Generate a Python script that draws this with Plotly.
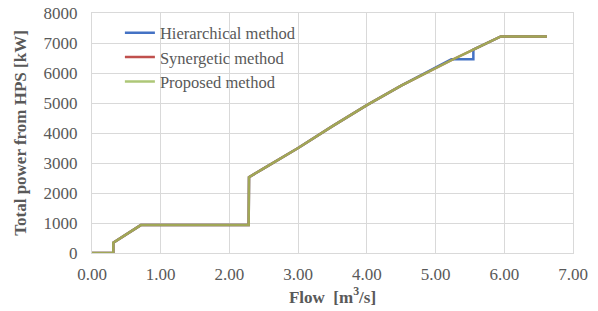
import plotly.graph_objects as go

# Proposed / synergetic method (identical curves)
flow = [0.00, 0.31, 0.31, 0.50, 0.71, 2.28, 2.285, 2.50, 2.75, 3.00, 3.50, 4.00, 4.50, 5.00, 5.25, 5.55, 5.95, 6.62]
power = [0, 0, 340, 630, 930, 930, 2530, 2820, 3150, 3500, 4230, 4930, 5580, 6170, 6450, 6780, 7220, 7220]

# Hierarchical method
flow_h = [0.00, 0.31, 0.31, 0.50, 0.71, 2.28, 2.285, 2.50, 2.75, 3.00, 3.50, 4.00, 4.50, 5.00, 5.23, 5.55, 5.55, 5.95, 6.62]
power_h = [0, 0, 340, 630, 930, 930, 2530, 2820, 3150, 3500, 4230, 4930, 5580, 6170, 6460, 6460, 6780, 7220, 7220]

series_names = ["Hierarchical method", "Synergetic method", "Proposed method"]
colors = ["#4472C4", "#C0504D", "#9BBB59"]

x_ticks = [0, 1, 2, 3, 4, 5, 6, 7]
x_tick_text = ["0.00", "1.00", "2.00", "3.00", "4.00", "5.00", "6.00", "7.00"]
y_ticks = [0, 1000, 2000, 3000, 4000, 5000, 6000, 7000, 8000]

FONT = "Liberation Serif"
GRAY = "#595959"

fig = go.Figure()
fig.add_trace(go.Scatter(x=flow_h, y=power_h, mode="lines", name=series_names[0],
                         line=dict(color=colors[0], width=2.5)))
fig.add_trace(go.Scatter(x=flow, y=power, mode="lines", name=series_names[1],
                         line=dict(color=colors[1], width=2.5)))
fig.add_trace(go.Scatter(x=flow, y=power, mode="lines", name=series_names[2],
                         line=dict(color=colors[2], width=2.5), opacity=0.82))

fig.update_layout(
    width=598, height=311,
    margin=dict(l=92, r=25, t=13, b=58, autoexpand=False),
    paper_bgcolor="white", plot_bgcolor="white",
    font=dict(family=FONT, size=17, color=GRAY),
    showlegend=True,
    legend=dict(x=0.058, y=0.99, xanchor="left", yanchor="top",
                bgcolor="rgba(0,0,0,0)", font=dict(family=FONT, size=16.5, color=GRAY),
                tracegroupgap=0, itemwidth=30),
    xaxis=dict(range=[0, 7], tickvals=x_ticks, ticktext=x_tick_text,
               showgrid=True, gridcolor="#D9D9D9", gridwidth=1,
               zeroline=False, showline=True, linecolor="#D9D9D9",
               mirror=True, ticks="", ticklabelstandoff=6, automargin=False,
               tickfont=dict(family=FONT, size=17, color=GRAY),
               title=dict(text="<b>Flow\u00a0\u00a0[m<sup>3</sup>/s]</b>", standoff=6,
                          font=dict(family=FONT, size=17, color=GRAY))),
    yaxis=dict(range=[0, 8000], tickvals=y_ticks,
               showgrid=True, gridcolor="#D9D9D9", gridwidth=1,
               zeroline=False, showline=True, linecolor="#D9D9D9",
               mirror=True, ticks="", ticklabelstandoff=10, automargin=False,
               tickfont=dict(family=FONT, size=17, color=GRAY),
               title=dict(text="<b>Total power from HPS [kW]</b>", standoff=12,
                          font=dict(family=FONT, size=17, color=GRAY))),
)

fig.write_html("out.html", config={"displayModeBar": False},
               post_script="document.body.style.margin='0px';document.body.style.overflow='hidden';")
